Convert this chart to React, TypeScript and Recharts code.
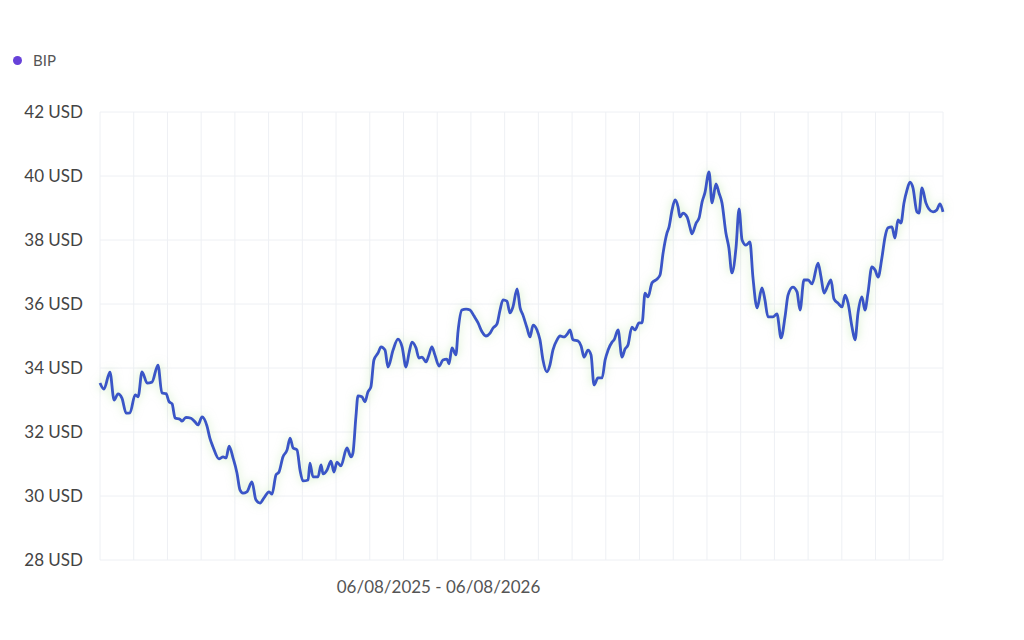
import { LineChart, Line, XAxis, YAxis, CartesianGrid } from 'recharts'

// BIP price, roughly one point every 1-2 days over the year
const days = [
  0, 1.7, 4.3, 6.1, 7.8, 9.5, 11.3, 13.0, 15.2, 16.5, 18.2, 20.4, 22.5, 25.1, 26.8, 28.6, 29.9, 31.2, 32.5, 34.6,
  35.5, 37.2, 39.4, 41.1, 42.4, 44.2, 46.3, 47.6, 48.9, 51.5, 53.3, 54.6, 55.9, 57.6, 59.3, 60.6, 61.9, 63.6, 65.8, 67.5,
  69.3, 71.0, 73.2, 74.5, 76.2, 77.5, 79.2, 81.0, 82.3, 83.6, 85.3, 86.6, 87.9, 90.1, 90.9, 92.2, 94.4, 95.7, 96.6, 98.3,
  100.0, 101.3, 102.6, 104.3, 106.9, 108.7, 109.5, 110.8, 111.7, 113.4, 114.7, 116.0, 117.3, 118.6, 120.4, 121.7, 123.4, 124.7, 126.9, 129.0,
  130.8, 132.5, 133.8, 135.1, 136.8, 138.1, 139.4, 141.2, 142.4, 143.7, 145.0, 146.8, 148.5, 150.2, 151.1, 152.4, 154.1, 155.0, 156.7, 158.5,
  160.2, 161.9, 163.7, 165.4, 167.1, 168.9, 170.2, 171.9, 173.2, 174.5, 176.2, 177.5, 178.8, 180.6, 181.9, 183.1, 184.9, 186.2, 187.5, 189.2,
  190.5, 191.8, 193.5, 194.8, 196.1, 197.9, 199.2, 200.9, 202.6, 203.5, 204.8, 207.0, 208.3, 209.6, 211.3, 212.6, 213.9, 215.6, 217.4, 218.7,
  220.0, 221.7, 222.6, 224.3, 226.0, 227.3, 228.6, 230.3, 231.6, 233.4, 234.7, 236.0, 237.3, 239.0, 241.2, 242.5, 243.8, 245.5, 246.4, 247.7,
  249.0, 250.3, 251.1, 252.4, 254.2, 255.5, 256.3, 258.1, 259.4, 260.7, 261.9, 263.7, 265.0, 266.7, 268.0, 269.3, 271.0, 272.3, 273.6, 275.4,
  276.7, 278.0, 279.7, 281.4, 282.7, 284.5, 286.6, 287.9, 289.2, 291.4, 293.1, 294.9, 296.6, 297.9, 300.0, 301.8, 303.1, 304.8, 306.6, 308.3,
  310.9, 312.2, 313.5, 315.2, 316.5, 317.8, 319.5, 321.3, 322.6, 323.9, 325.6, 326.9, 328.2, 329.9, 331.2, 332.5, 334.2, 335.6, 336.9, 338.6,
  339.9, 341.2, 342.9, 344.2, 345.5, 346.8, 348.1, 349.4, 350.7, 352.0, 353.7, 354.6, 355.9, 357.6, 358.9, 360.7, 362.3, 363.7, 365.0,
]

const prices = [
  33.53, 33.34, 33.87, 33.0, 33.19, 33.06, 32.59, 32.6, 33.16, 33.1, 33.88, 33.53, 33.56, 34.09, 33.22, 33.2, 32.95, 32.88, 32.44, 32.4,
  32.34, 32.46, 32.43, 32.32, 32.22, 32.47, 32.19, 31.8, 31.54, 31.16, 31.22, 31.19, 31.56, 31.19, 30.72, 30.19, 30.09, 30.13, 30.44, 29.88,
  29.78, 29.94, 30.13, 30.06, 30.66, 30.75, 31.22, 31.44, 31.81, 31.5, 31.44, 30.81, 30.47, 30.5, 31.03, 30.6, 30.6, 30.97, 30.69, 30.81,
  31.09, 30.75, 31.06, 30.94, 31.5, 31.22, 31.34, 32.47, 33.13, 33.1, 32.94, 33.25, 33.41, 34.25, 34.47, 34.66, 34.56, 34.03, 34.56, 34.9,
  34.66, 34.03, 34.47, 34.81, 34.63, 34.31, 34.34, 34.19, 34.41, 34.66, 34.41, 34.06, 34.25, 34.28, 34.13, 34.63, 34.41, 35.13, 35.81, 35.84,
  35.81, 35.63, 35.41, 35.13, 35.0, 35.09, 35.25, 35.38, 35.81, 36.13, 36.09, 35.72, 35.91, 36.47, 35.88, 35.66, 35.25, 34.97, 35.34, 35.19,
  34.88, 34.25, 33.88, 34.09, 34.56, 34.88, 35.0, 34.97, 35.09, 35.19, 34.88, 34.84, 34.69, 34.34, 34.56, 34.41, 33.47, 33.69, 33.69, 34.25,
  34.56, 34.81, 34.88, 35.19, 34.34, 34.59, 34.72, 35.28, 35.19, 35.41, 35.41, 36.34, 36.22, 36.66, 36.78, 36.91, 37.59, 38.22, 38.41, 38.94,
  39.25, 39.03, 38.72, 38.84, 38.72, 38.38, 38.19, 38.53, 38.69, 39.19, 39.47, 40.13, 39.16, 39.75, 39.47, 39.16, 38.22, 37.75, 36.97, 37.78,
  38.97, 38.0, 37.84, 37.94, 36.84, 35.88, 36.5, 36.13, 35.6, 35.6, 35.69, 34.94, 35.6, 36.28, 36.53, 36.38, 35.81, 36.75, 36.75, 36.63,
  37.28, 36.84, 36.34, 36.59, 36.75, 36.16, 36.03, 35.91, 36.28, 36.03, 35.28, 34.88, 35.72, 36.22, 35.81, 36.34, 37.16, 37.06, 36.84, 37.47,
  38.09, 38.38, 38.41, 38.06, 38.63, 38.53, 39.16, 39.56, 39.81, 39.63, 38.88, 38.84, 39.63, 39.16, 38.97, 38.88, 38.94, 39.13, 38.88,
]

const yTicks = [28, 30, 32, 34, 36, 38, 40, 42]
const gridDays = Array.from({ length: 26 }, (_, i) => i * 14.6)
const periodLabel = '06/08/2025 - 06/08/2026'
const seriesName = 'BIP'

const data = days.map((d, i) => ({ day: d, price: prices[i] }))

const FONT = 'Lato, "Noto Sans", sans-serif'

export default function App() {
  return (
    <div style={{ position: 'relative', width: 1008, height: 624, fontFamily: FONT }}>
      <style>{`.recharts-line-curve { filter: drop-shadow(0 0 5px rgba(150, 215, 120, 0.5)); }`}</style>

      {/* legend */}
      <div style={{ position: 'absolute', left: 5, top: 43, display: 'flex', alignItems: 'center', gap: 11, fontSize: 15, color: '#555' }}>
        <span style={{ width: 9, height: 9, borderRadius: 5, background: '#6741d9', display: 'inline-block' }} />
        <span>{seriesName}</span>
      </div>

      <LineChart width={1008} height={620} data={data} margin={{ top: 104, right: 73, left: 0, bottom: 38 }}>
        <CartesianGrid stroke="#eef0f4" strokeWidth={1} />
        <XAxis
          dataKey="day"
          type="number"
          domain={[0, 365]}
          ticks={gridDays}
          interval={0}
          tickFormatter={() => ''}
          tickLine={false}
          axisLine={false}
          height={30}
          label={{ value: periodLabel, position: 'insideTop', offset: 21, dx: -83, fill: '#555', fontSize: 17, fontFamily: FONT }}
        />
        <YAxis
          width={92}
          domain={[28, 42]}
          ticks={yTicks}
          tickFormatter={v => `${v} USD`}
          tick={{ fill: '#444', fontSize: 17, fontFamily: FONT }}
          tickLine={false}
          axisLine={false}
          tickMargin={11}
        />
        <Line
          type="monotone"
          dataKey="price"
          stroke="#3a55c7"
          strokeWidth={2.8}
          dot={false}
          isAnimationActive={false}
        />
      </LineChart>
    </div>
  )
}
